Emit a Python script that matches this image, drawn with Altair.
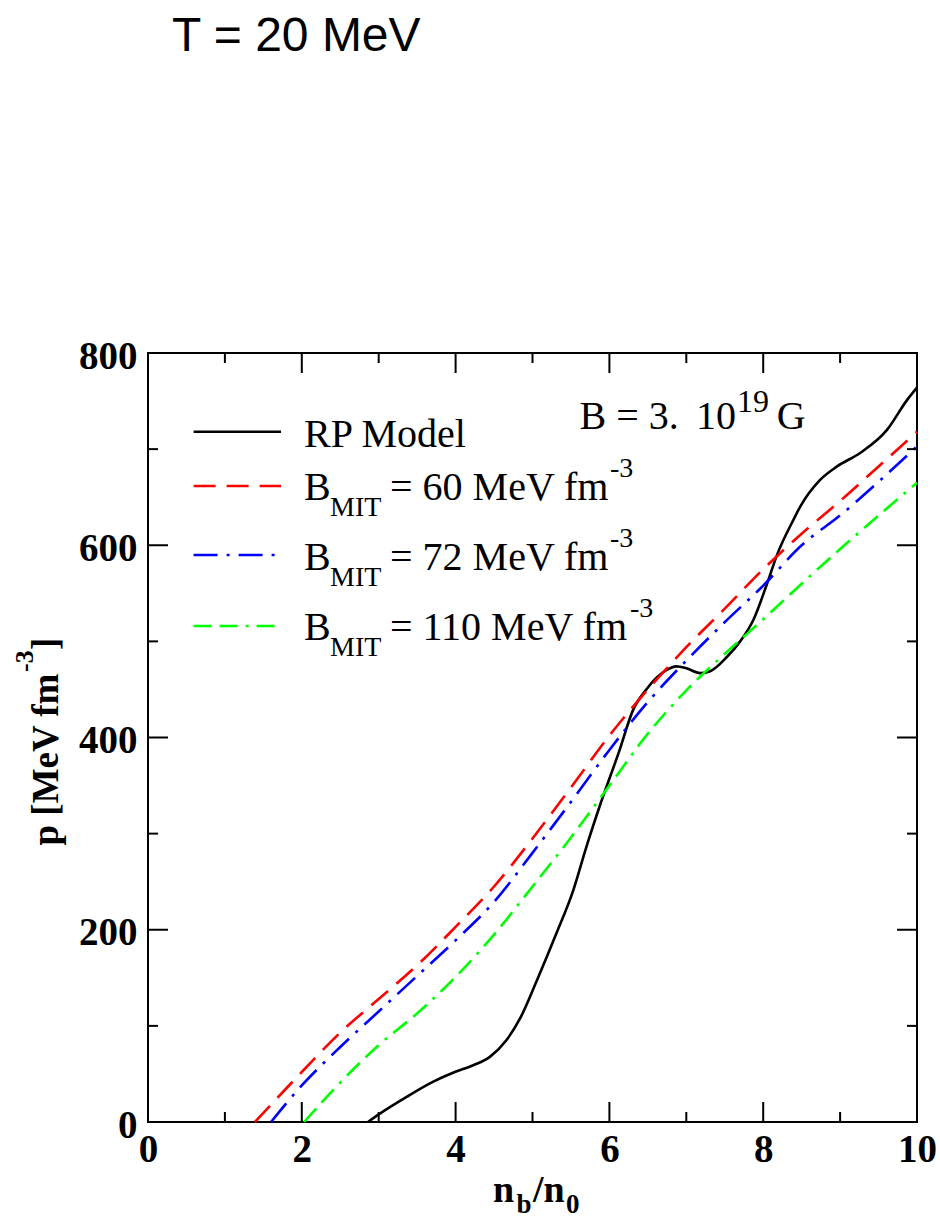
import altair as alt
import pandas as pd

# ---------------- data ----------------
rp_x = [2.86, 3.02, 3.36, 3.71, 3.99, 4.23, 4.45, 4.66, 4.84, 5.05, 5.31, 5.53, 5.70, 5.88,
        6.12, 6.31, 6.48, 6.74, 6.87, 7.00, 7.18, 7.31, 7.53, 7.70, 7.87, 8.05, 8.18, 8.39,
        8.48, 8.74, 8.96, 9.26, 9.61, 9.87, 10.0]
rp_p = [0, 9, 26, 42, 52, 59, 68, 85, 108, 146, 196, 241, 286, 330,
        384, 429, 450, 470, 474, 472, 467, 469, 484, 500, 522, 560, 590, 626,
        640, 668, 682, 696, 720, 751, 764]

b60_x = [1.39, 2.0, 2.5, 3.0, 3.5, 4.0, 4.5, 5.0, 5.5, 6.0, 6.5, 7.0, 7.5, 8.0, 8.5, 9.0, 9.5, 10.0]
b60_p = [0, 52, 93, 128, 163, 203, 245, 295, 348, 402, 450, 494, 534, 575, 612, 646, 682, 718]

b72_x = [1.60, 2.0, 2.5, 3.0, 3.5, 4.0, 4.5, 5.0, 5.5, 6.0, 6.5, 7.0, 7.5, 8.0, 8.5, 9.0, 9.5, 10.0]
b72_p = [0, 38, 78, 115, 152, 189, 229, 280, 333, 387, 437, 480, 520, 558, 600, 631, 666, 703]

b110_x = [2.03, 2.5, 3.0, 3.5, 4.0, 4.5, 5.0, 5.5, 6.0, 6.5, 7.0, 7.5, 8.0, 8.5, 9.0, 9.5, 10.0]
b110_p = [0, 41, 80, 113, 151, 195, 245, 296, 350, 404, 449, 487, 523, 560, 596, 631, 665]

x_major = [0, 2, 4, 6, 8, 10]
x_minor = [1, 3, 5, 7, 9]
y_major = [0, 200, 400, 600, 800]
y_minor = [100, 300, 500, 700]

# ---------------- layout ----------------
W, H = 769, 769
SERIF = "Liberation Serif"
SANS = "Liberation Sans"
LW = 2.6

xscale = alt.Scale(domain=[0, 10], nice=False, zero=False)
yscale = alt.Scale(domain=[0, 800], nice=False, zero=False)

x_axis = alt.Axis(values=x_major, title=None, grid=False, domain=False, ticks=False, tickSize=0,
                  labelFont=SERIF, labelFontSize=39, labelFontWeight="bold", labelColor="black",
                  labelPadding=39.7, labelBaseline="alphabetic", labelFlush=False,
                  labelOverlap=False, format="d")
y_axis = alt.Axis(values=y_major, title=None, grid=False, domain=False, ticks=False, tickSize=0,
                  labelFont=SERIF, labelFontSize=39, labelFontWeight="bold", labelColor="black",
                  labelPadding=11, labelBaseline="middle", labelOffset=3, labelFlush=False,
                  labelOverlap=False, format="d")


def X(field):
    return alt.X(field, scale=xscale, axis=x_axis)


def Y(field):
    return alt.Y(field, scale=yscale, axis=y_axis)


def curve(xs, ps, color, dash=None):
    df = pd.DataFrame({"x": xs, "p": ps})
    kw = dict(color=color, strokeWidth=LW, interpolate="monotone", strokeCap="butt")
    if dash:
        kw["strokeDash"] = dash
    return alt.Chart(df).mark_line(**kw).encode(x=X("x:Q"), y=Y("p:Q"))


def xticks(vals, length):
    df = pd.DataFrame({"x": vals})
    bottom = alt.Chart(df).mark_rule(color="black", strokeWidth=2).encode(
        x=X("x:Q"), y=alt.value(H), y2=alt.value(H - length))
    top = alt.Chart(df).mark_rule(color="black", strokeWidth=2).encode(
        x=X("x:Q"), y=alt.value(0), y2=alt.value(length))
    return [bottom, top]


def yticks(vals, length):
    df = pd.DataFrame({"p": vals})
    left = alt.Chart(df).mark_rule(color="black", strokeWidth=2).encode(
        y=Y("p:Q"), x=alt.value(0), x2=alt.value(length))
    right = alt.Chart(df).mark_rule(color="black", strokeWidth=2).encode(
        y=Y("p:Q"), x=alt.value(W), x2=alt.value(W - length))
    return [left, right]


def text(t, x, y, size, font=SERIF, weight="normal", angle=0):
    return alt.Chart(pd.DataFrame({"t": [t]})).mark_text(
        font=font, fontSize=size, fontWeight=weight, align="left", baseline="alphabetic",
        angle=angle, color="black",
    ).encode(text="t:N", x=alt.value(x), y=alt.value(y))


def legend_rule(y, color, dash=None):
    kw = dict(color=color, strokeWidth=LW, strokeCap="butt")
    if dash:
        kw["strokeDash"] = dash
    return alt.Chart(pd.DataFrame({"a": [0]})).mark_rule(**kw).encode(
        x=alt.value(45.6), x2=alt.value(133), y=alt.value(y))


RED_DASH = [22, 11]
BLUE_DASH = [24, 9, 3, 9]
GREEN_DASH = [18, 8, 18, 8, 3, 8]

layers = []
layers.append(curve(rp_x, rp_p, "black"))
layers.append(curve(b60_x, b60_p, "#ff0000", RED_DASH))
layers.append(curve(b72_x, b72_p, "#0000ff", BLUE_DASH))
layers.append(curve(b110_x, b110_p, "#00ff00", GREEN_DASH))

layers += xticks(x_major, 20) + xticks(x_minor, 10)
layers += yticks(y_major, 20) + yticks(y_minor, 10)

# title
layers.append(text("T = 20 MeV", 24, -302, 48, font=SANS))

# legend
layers.append(legend_rule(78.7, "black"))
layers.append(text("RP Model", 156, 93.7, 40))
legend_rows = [
    (133, 147, "#ff0000", RED_DASH, "= 60 MeV fm", 462),
    (202, 217, "#0000ff", BLUE_DASH, "= 72 MeV fm", 462),
    (273, 287, "#00ff00", GREEN_DASH, "= 110 MeV fm", 482),
]
for ly, base, col, dash, lab, supx in legend_rows:
    layers.append(legend_rule(ly, col, dash))
    layers.append(text("B", 156, base, 40))
    layers.append(text("MIT", 182, base + 16, 28))
    layers.append(text(lab, 242, base, 40))
    layers.append(text("-3", supx, base - 23, 28))

# field annotation
layers.append(text("B = 3.", 431.5, 76.3, 40))
layers.append(text("10", 548, 76.3, 40))
layers.append(text("19", 589, 58.7, 32))
layers.append(text("G", 628.7, 76.3, 40))

# x-axis title  n_b / n_0
layers.append(text("n", 345, 848.7, 38, weight="bold"))
layers.append(text("b", 368.5, 860.3, 27, weight="bold"))
layers.append(text("/n", 385, 848.7, 38, weight="bold"))
layers.append(text("0", 418, 860.3, 27, weight="bold"))

# y-axis title  p [MeV fm^-3]
layers.append(text("p [MeV fm", -90, 492.5, 37, weight="bold", angle=270))
layers.append(text("-3", -115, 319, 26, weight="bold", angle=270))
layers.append(text("]", -90, 297, 37, weight="bold", angle=270))

chart = alt.layer(*layers).properties(
    width=W, height=H,
    padding={"left": 148, "top": 353, "right": 23, "bottom": 96},
    autosize=alt.AutoSizeParams(type="none"),
    background="white",
).configure_view(stroke="black", strokeWidth=2)

chart.save("out.html", embed_options={"renderer": "svg", "actions": False})
